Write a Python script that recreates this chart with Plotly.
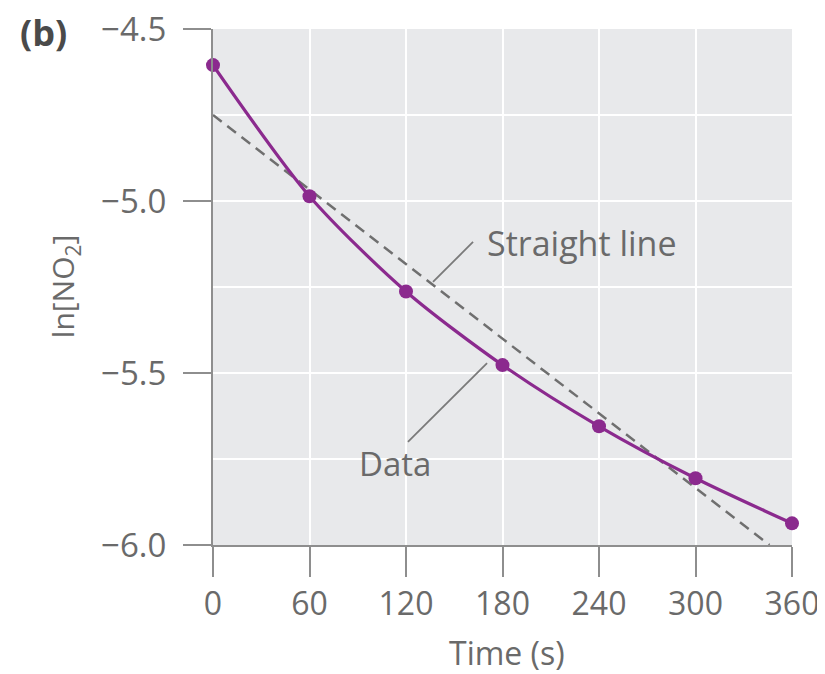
import plotly.graph_objects as go

# Data
time_s = [0, 60, 120, 180, 240, 300, 360]
ln_no2 = [-4.605, -4.986, -5.263, -5.477, -5.655, -5.806, -5.937]
straight_t = [0, 346]
straight_y = [-4.75, -6.0]
x_ticks = [0, 60, 120, 180, 240, 300, 360]
y_ticks = [-4.5, -5.0, -5.5, -6.0]

PURPLE = "#8B2A8E"
GRAY_TXT = "#6a6a6a"
AXIS = "#8e8e8e"
FONT = "Open Sans"

fig = go.Figure()
fig.add_trace(go.Scatter(
    x=straight_t, y=straight_y, mode="lines",
    line=dict(color="#6f6f6f", width=2.5, dash="11px,7px"),
    hoverinfo="skip", showlegend=False, cliponaxis=False))
fig.add_trace(go.Scatter(
    x=time_s, y=ln_no2, mode="lines+markers",
    line=dict(color=PURPLE, width=3.2, shape="spline", smoothing=0.8),
    marker=dict(color=PURPLE, size=14),
    showlegend=False, cliponaxis=False))

# Leader lines
fig.add_shape(type="line", x0=161.7, y0=-5.119, x1=136.8, y1=-5.235,
              line=dict(color="#7a7a7a", width=1.8))
fig.add_shape(type="line", x0=121.2, y0=-5.70, x1=170.4, y1=-5.471,
              line=dict(color="#7a7a7a", width=1.8))

fig.add_annotation(x=229.4, y=-5.122, text="Straight line", showarrow=False,
                   xanchor="center", yanchor="middle",
                   font=dict(family=FONT, size=34, color=GRAY_TXT))
fig.add_annotation(x=113.2, y=-5.762, text="Data", showarrow=False,
                   xanchor="center", yanchor="middle",
                   font=dict(family=FONT, size=33, color=GRAY_TXT))

# Titles as annotations
fig.add_annotation(xref="paper", yref="paper", x=0.508, y=-0.209,
                   xanchor="center", yanchor="middle",
                   text="Time (s)", showarrow=False,
                   font=dict(family=FONT, size=32, color=GRAY_TXT))
fig.add_annotation(xref="paper", yref="paper", x=-0.257, y=0.502,
                   xanchor="center", yanchor="middle",
                   text="ln[NO<sub>2</sub>]", showarrow=False, textangle=-90,
                   font=dict(family=FONT, size=30, color=GRAY_TXT))
fig.add_annotation(xref="paper", yref="paper", x=-0.292, y=0.994,
                   xanchor="center", yanchor="middle",
                   text="<b>(b)</b>", showarrow=False,
                   font=dict(family=FONT, size=36, color="#4a4a4a"))
fig.add_annotation(xref="paper", yref="paper", x=-0.354, y=-0.112,
                   xanchor="right", yanchor="middle", text=")", showarrow=False,
                   font=dict(family=FONT, size=30, color=GRAY_TXT))

fig.update_xaxes(
    range=[0, 360], tickvals=x_ticks, ticktext=[str(v) for v in x_ticks],
    showgrid=True, gridcolor="white", gridwidth=2,
    showline=True, linecolor=AXIS, linewidth=2,
    ticks="outside", ticklen=30, tickwidth=2, tickcolor=AXIS,
    ticklabelstandoff=0, automargin=False, ticklabeloverflow="allow",
    tickfont=dict(family=FONT, size=32, color=GRAY_TXT),
    zeroline=False, fixedrange=True)
fig.update_yaxes(
    range=[-6.0, -4.5], tickvals=y_ticks, tickformat=".1f",
    showgrid=True, gridcolor="white", gridwidth=2,
    minor=dict(dtick=0.25, tick0=-6.0, showgrid=True, gridcolor="white",
               gridwidth=2, ticks=""),
    showline=True, linecolor=AXIS, linewidth=2,
    ticks="outside", ticklen=28, tickwidth=2, tickcolor=AXIS,
    ticklabelstandoff=10, automargin=False, ticklabeloverflow="allow",
    tickfont=dict(family=FONT, size=33, color=GRAY_TXT),
    zeroline=False, fixedrange=True)

# page body has an 8px default margin, so the figure is sized/offset for it
fig.update_layout(
    width=817, height=666,
    margin=dict(l=205, r=33, t=21, b=129),
    plot_bgcolor="#E8E9EB", paper_bgcolor="white",
    font=dict(family=FONT, color=GRAY_TXT),
)

fig.write_html("out.html")
